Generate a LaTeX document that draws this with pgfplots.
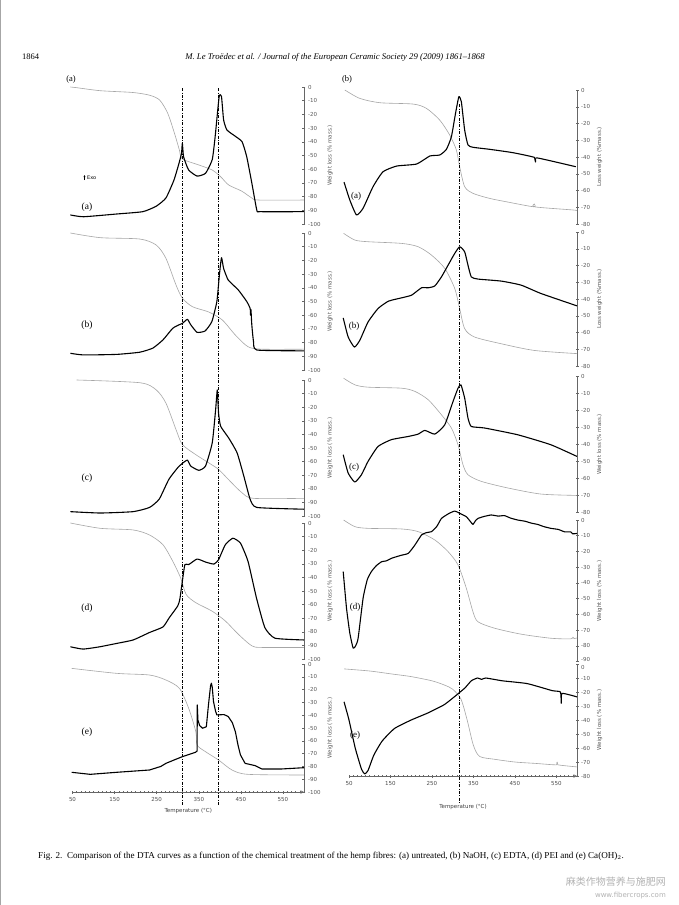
\documentclass[border=0pt]{standalone}
\usepackage{fontspec}
\setmainfont{Liberation Serif}
\newfontfamily\tickfont{DejaVu Sans}
\newfontfamily\cjk{Noto Sans CJK SC}
\usepackage{pgfplots}
\pgfplotsset{compat=1.18}
\usetikzlibrary{arrows.meta}
\pgfplotsset{
  base/.style={scale only axis, xmin=50, xmax=600, clip=false,
    axis y line=right,
    axis line style={-, color=black!60, line width=0.6pt},
    tick style={color=black!60, line width=0.5pt},
    tick align=center, major tick length=3pt, minor tick length=2pt,
    yticklabel style={font=\tickfont\fontsize{5.5}{6}\selectfont, text=black!65, xshift=-1pt},
    ylabel style={font=\tickfont\fontsize{5.5}{6}\selectfont, text=black!65},
    /pgf/number format/assume math mode=true,
    ytick distance=10},
  nox/.style={axis x line=none},
  L/.style={base, width=231.5pt, ymin=-100, ymax=0, ylabel={Weight loss (\% mass.)}},
  R/.style={base, width=228pt, ymax=0},
  bottomx/.style={axis x line=bottom, xtick={50,150,...,550}, minor xtick={50,60,...,600},
    xticklabel style={font=\tickfont\fontsize{5.5}{6}\selectfont, text=black!70},
    xlabel={Temperature (°C)},
    xlabel style={font=\tickfont\fontsize{5.5}{6}\selectfont, text=black!75}},
  dta/.style={black, line width=1.1pt, line join=round, smooth, tension=0.3},
  dtas/.style={black, line width=1.1pt, line join=round},
  tg/.style={black!35, line width=0.6pt, line join=round, smooth, tension=0.45},
  dline/.style={black, dash pattern=on 3pt off 1.5pt on 0.8pt off 1.5pt, line width=0.7pt}
}
\begin{document}
\begin{tikzpicture}
\path[use as bounding box] (0,0) rectangle (678pt,-905pt);
\fill[white] (0,0) rectangle (678pt,-905pt);
\draw[black!35, line width=0.8pt] (0.6pt,0) -- (0.6pt,-905pt);

% header
\node[anchor=base west, font=\fontsize{8.5}{10}\selectfont, inner sep=0] at (22pt,-59pt) {1864};
\node[anchor=base, font=\itshape\fontsize{8.7}{10}\selectfont, inner sep=0] at (335pt,-59pt) {M. Le Troëdec et al. / Journal of the European Ceramic Society 29 (2009) 1861--1868};

% ---------------- LEFT COLUMN ----------------
\begin{axis}[L, nox, at={(72.5pt,-224pt)}, anchor=south west, height=137pt]
\addplot[tg] coordinates {(45,0) (60,-0.5) (116,-2.7) (193,-4) (233,-6) (257,-9.5) (276,-19) (292,-33.5) (304,-46) (311,-52.5) (351,-57) (382,-60.6) (402,-65.5) (421,-71.5) (452,-76) (476,-81) (492,-82.5) (600,-82.5)};
\addplot[dta] coordinates {(45,-93.4) (76,-94.7) (155,-92.7) (217,-91) (249,-87) (272,-81) (291,-68) (303,-55.7) (309,-48.4) (311,-41) (314,-51) (326,-60.6) (346,-65) (366,-63) (382,-53) (389,-36) (395,-17) (399,-6) (404,-7) (409,-24) (417,-31.4) (437,-36) (453,-40) (464,-51) (476,-70) (488,-90) (496,-91) (600,-91)};
\end{axis}

\begin{axis}[L, nox, at={(72.5pt,-370pt)}, anchor=south west, height=137pt]
\addplot[tg] coordinates {(45,0) (116,-3.4) (210,-4.4) (249,-8.8) (272,-18.5) (296,-38) (311,-47.5) (335,-53.8) (374,-57.7) (406,-63.5) (437,-74.5) (467,-83) (500,-84.8) (600,-84.8)};
\addplot[dta] coordinates {(45,-87.8) (76,-89) (155,-88.6) (210,-87) (241,-84) (265,-78) (288,-69.6) (303,-67) (311,-66) (323,-63) (331,-67) (346,-72.5) (365,-71.5) (381,-64.7) (393,-50) (399,-30.6) (404,-18) (409,-25.8) (420,-34.3) (444,-41.6) (464,-50) (472,-55) (473,-60) (474,-56) (476,-67) (480,-79) (488,-85.4) (600,-86)};
\end{axis}

\begin{axis}[L, nox, at={(72.5pt,-516pt)}, anchor=south west, height=136pt]
\addplot[tg] coordinates {(60,0) (210,-2) (249,-7.3) (272,-17) (296,-36.5) (311,-47.4) (342,-54.7) (373,-60.8) (397,-65.7) (420,-73) (452,-82.7) (480,-87) (600,-87)};
\addplot[dta] coordinates {(45,-96.8) (116,-97.8) (194,-96.8) (233,-93.7) (256,-87.6) (279,-73) (300,-64.5) (311,-61.3) (323,-58.9) (331,-63.3) (350,-66.4) (366,-63.3) (382,-46.2) (390,-22) (394,-7.3) (397,-24.3) (402,-34) (421,-42.6) (441,-53.5) (457,-70.6) (472,-87.6) (488,-93.7) (600,-95)};
\end{axis}

\begin{axis}[L, nox, at={(72.5pt,-659pt)}, anchor=south west, height=136pt]
\addplot[tg] coordinates {(45,0) (116,-3.9) (194,-5.1) (233,-8.8) (265,-16) (288,-28) (307,-40.4) (320,-52.5) (343,-58.6) (381,-64.7) (413,-72) (444,-81.8) (476,-90.3) (500,-91.5) (600,-91.5)};
\addplot[dta] coordinates {(45,-91) (75,-92.7) (115,-91) (154,-88.6) (194,-86) (233,-80.5) (265,-76.4) (280,-69.6) (300,-61) (305,-56) (311,-42.8) (317,-30.6) (326,-30.6) (346,-26.5) (366,-28.7) (386,-30.2) (397,-27) (413,-16) (431,-11.2) (449,-14.8) (467,-28.2) (487,-55) (507,-76.9) (531,-84.7) (600,-86)};
\end{axis}

\begin{axis}[L, bottomx, at={(72.5pt,-792pt)}, anchor=south west, height=128pt]
\addplot[tg] coordinates {(48,-3.4) (155,-7.3) (233,-8.6) (272,-12.5) (304,-19) (326,-34.6) (343,-52.9) (346,-63.3) (366,-68.5) (397,-75) (429,-82.8) (467,-86.2) (600,-86.7)};
\addplot[dtas] coordinates {(48,-84.6) (92,-86.2) (155,-84.6) (233,-82.8) (260,-80) (272,-77.6) (295,-74.5) (311,-72.4) (342,-69) (346,-68) (346.5,-32) (348,-43.8) (352,-48) (359,-50.2) (368,-49) (373,-32) (378,-17) (380,-15) (382,-18) (385,-29.4) (390,-37) (393,-39.8) (410,-39.5) (420,-41) (430,-46) (437,-52.9) (443,-63) (449,-71) (460,-77.6) (484,-79.4) (500,-82) (547,-82) (600,-81)};
\addplot[dline] coordinates {(310,450) (310,-111)};
\addplot[dline] coordinates {(397,450) (397,-111)};
\end{axis}

% ---------------- RIGHT COLUMN ----------------
\begin{axis}[R, nox, at={(349pt,-224pt)}, anchor=south west, height=134pt, ymin=-80, ylabel={Loss weight (\%mass.)}]
\addplot[tg] coordinates {(40,0) (76,-5) (125,-7.6) (205,-8.4) (237,-11) (269,-18) (293,-26.9) (309,-35.8) (317,-45.8) (329,-57.7) (349,-61.7) (389,-64.7) (429,-66.7) (495,-69.7) (497,-68) (499,-69.8) (589,-71.6) (600,-72)};
\addplot[dta] coordinates {(38,-55) (52,-65.7) (68,-74.6) (84,-70.6) (108,-57.7) (132,-48.8) (165,-45.4) (213,-44.2) (245,-39.4) (269,-38.8) (285,-35.4) (297,-27.9) (307,-13.9) (315,-4) (321,-7) (329,-23.9) (337,-32.8) (349,-34.2) (389,-35.4) (445,-37.4) (497,-40.2) (500,-43) (503,-40.5) (597,-45.8)};
\end{axis}

\begin{axis}[R, nox, at={(349pt,-366pt)}, anchor=south west, height=134pt, ymin=-80, ylabel={Loss weight (\%mass.)}]
\addplot[tg] coordinates {(37,-0.8) (64,-4.8) (96,-5.8) (177,-6.8) (217,-8.8) (249,-13.8) (281,-21.7) (305,-33.7) (317,-45.7) (329,-57.7) (353,-62.7) (417,-66.7) (497,-70.7) (600,-72.6)};
\addplot[dta] coordinates {(36,-51.3) (48,-62.7) (63,-68.7) (76,-64.7) (96,-53.7) (120,-45.7) (145,-41.3) (177,-39.3) (201,-37.7) (225,-33.3) (241,-33.3) (257,-32.2) (273,-26.8) (289,-19.8) (305,-12.8) (317,-8.8) (329,-11.8) (337,-19.8) (345,-26.8) (361,-28.1) (417,-29.3) (465,-31.7) (513,-36.7) (600,-44.1)};
\end{axis}

\begin{axis}[R, nox, at={(349pt,-512pt)}, anchor=south west, height=135.5pt, ymin=-80, ylabel={Weight loss (\% mass.)}]
\addplot[tg] coordinates {(37,-1) (64,-4.9) (96,-6.3) (177,-6.9) (209,-8.8) (241,-13.7) (273,-22.6) (297,-30.4) (313,-40.3) (325,-52.1) (337,-58) (369,-61.9) (433,-65.8) (513,-69.4) (600,-70.2)};
\addplot[dta] coordinates {(36,-46.2) (48,-57) (64,-62.3) (80,-58) (96,-50.1) (120,-41.3) (152,-37.3) (193,-35.4) (217,-34) (233,-31.8) (257,-34) (281,-28.5) (301,-14.7) (313,-6.9) (320,-4.9) (329,-12.7) (337,-24.5) (345,-29.5) (377,-30.4) (457,-34.4) (537,-40.3) (600,-47.2)};
\end{axis}

\begin{axis}[R, nox, at={(349pt,-661.5pt)}, anchor=south west, height=141.5pt, ymin=-90, ylabel={Weight loss (\% mass.)},
  ytick={-90,-80,...,0}, yticklabels={\raisebox{0.5pt}[0pt][0pt]{-90},-80,-70,-60,-50,-40,-30,-20,-10,0}]
\addplot[tg] coordinates {(37,0) (64,-4.2) (96,-5.3) (177,-5.7) (217,-7.4) (257,-12.7) (289,-20.1) (313,-28.6) (333,-43.4) (349,-58.3) (361,-64.7) (401,-68.8) (465,-72.6) (537,-75.2) (585,-75.6) (590,-74.5) (593,-75.4) (600,-75)};
\addplot[dta] coordinates {(36,-32.8) (44,-56.1) (52,-72) (60,-81.5) (66,-80) (72,-75.2) (84,-49.7) (94,-38) (104,-32.8) (116,-29) (129,-26.5) (140,-26) (153,-24.3) (175,-22.5) (193,-21.2) (209,-15.9) (225,-9.5) (237,-8) (249,-7.4) (262,-4) (273,1) (290,4) (305,5.7) (317,4.3) (333,2.1) (343,-1) (349,-2.8) (355,-0.5) (361,1) (375,2.2) (393,3.2) (410,2.5) (425,2.8) (440,1.2) (457,0) (475,-0.8) (490,-2) (505,-2.8) (520,-4.2) (537,-5.3) (555,-6) (570,-7.5) (585,-7.6) (590,-8.8) (600,-8.5)};
\end{axis}

\begin{axis}[R, bottomx, at={(349pt,-776pt)}, anchor=south west, height=112pt, ymin=-80, ylabel={Weight loss (\% mass.)},
  ytick={-80,-70,...,0}, yticklabels={-80,-70,-60,-50,-40,-30,-20,-10,\raisebox{-5pt}[0pt][0pt]{0}},
  xlabel style={yshift=-12pt}]
\addplot[tg] coordinates {(38,-3.5) (100,-5) (150,-7) (200,-9) (250,-12) (280,-15) (300,-18) (320,-25) (335,-40) (350,-58) (365,-66) (400,-68) (450,-70) (500,-71) (550,-72) (552,-70) (554,-72) (600,-73.5)};
\addplot[dta] coordinates {(38,-27) (50,-40) (65,-60) (80,-75) (88,-78.5) (96,-76) (110,-65) (130,-55) (160,-46) (200,-40) (240,-35) (280,-29) (310,-22) (330,-17) (345,-12) (360,-10) (370,-11) (380,-10) (420,-12) (480,-14) (540,-19) (560,-20) (562,-28) (564,-21) (600,-23.5)};
\addplot[dline] coordinates {(317,400) (317,-100)};
\end{axis}

% panel letters
\begin{scope}[every node/.style={font=\fontsize{8.5}{10}\selectfont, inner sep=0}]
\node at (71pt,-79pt) {(a)};
\node at (347pt,-79pt) {(b)};
\end{scope}
\begin{scope}[every node/.style={font=\fontsize{9.5}{11}\selectfont, inner sep=0}]
\node at (87pt,-207pt) {(a)};
\node at (87pt,-325pt) {(b)};
\node at (87pt,-478pt) {(c)};
\node at (87pt,-608pt) {(d)};
\node at (87pt,-732pt) {(e)};
\end{scope}
\begin{scope}[every node/.style={font=\fontsize{9}{10}\selectfont, inner sep=0}]
\node at (356pt,-196pt) {(a)};
\node at (354pt,-326pt) {(b)};
\node at (354pt,-467pt) {(c)};
\node at (355pt,-607pt) {(d)};
\node at (355pt,-735pt) {(e)};
\end{scope}
\draw[-{Latex[length=2pt,width=2pt]}, line width=0.5pt] (84.5pt,-180pt) -- (84.5pt,-175pt);
\node[anchor=west, font=\tickfont\fontsize{5}{6}\selectfont, inner sep=0] at (87pt,-178pt) {Exo};

% caption
\node[anchor=base west, font=\fontsize{9.1}{10}\selectfont, inner sep=0] at (38pt,-858pt) {Fig. 2.\ \ Comparison of the DTA curves as a function of the chemical treatment of the hemp fibres: (a) untreated, (b) NaOH, (c) EDTA, (d) PEI and (e) Ca(OH)$_2$.};

% watermark
\node[anchor=east, text=black!30, font=\cjk\fontsize{10}{11}\selectfont, inner sep=0] at (666pt,-882pt) {麻类作物营养与施肥网};
\node[anchor=east, text=black!30, font=\tickfont\fontsize{7}{8}\selectfont, inner sep=0] at (666pt,-896pt) {www.fibercrops.com};
\end{tikzpicture}
\end{document}
